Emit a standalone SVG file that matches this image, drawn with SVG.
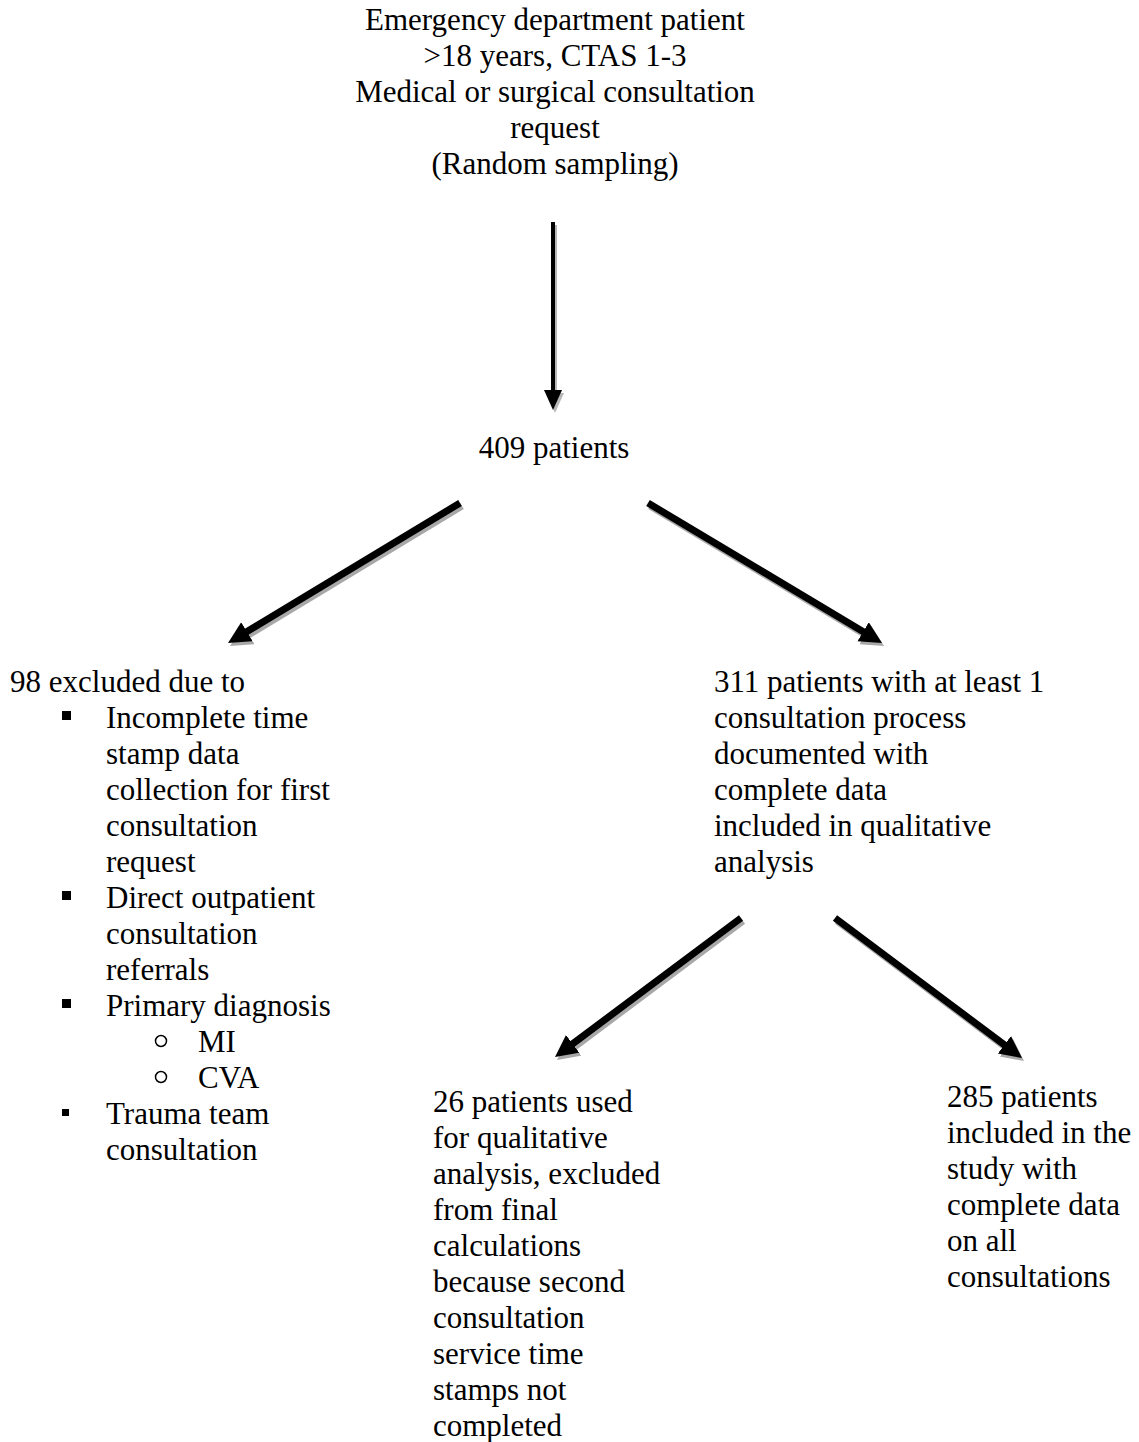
<svg xmlns="http://www.w3.org/2000/svg" width="1139" height="1442" viewBox="0 0 1139 1442">
<style>
  text { font-family: "Liberation Serif", "Times New Roman", serif; font-size: 31px; fill: #000; }
  .c { text-anchor: middle; }
  .thick { stroke: #000; stroke-width: 7; fill: none; }
  .thickS { stroke: #a8a8a8; stroke-width: 7; fill: none; }
  .thin { stroke: #000; stroke-width: 4; fill: none; }
  .thinS { stroke: #b8b8b8; stroke-width: 4; fill: none; }
  .bul { fill: #000; }
  .circ { fill: none; stroke: #000; stroke-width: 1.5; }
</style>
<defs>
  <marker id="ah" markerUnits="userSpaceOnUse" markerWidth="24" markerHeight="24" refX="8" refY="11" orient="auto">
    <path d="M0,0 L22,11 L0,22 z" fill="#000"/>
  </marker>
  <marker id="ahS" markerUnits="userSpaceOnUse" markerWidth="24" markerHeight="24" refX="8" refY="11" orient="auto">
    <path d="M0,0 L22,11 L0,22 z" fill="#a8a8a8"/>
  </marker>
  <marker id="ahT" markerUnits="userSpaceOnUse" markerWidth="22" markerHeight="22" refX="10" refY="9" orient="auto">
    <path d="M0,0 L20,9 L0,18 z" fill="#000"/>
  </marker>
  <marker id="ahTS" markerUnits="userSpaceOnUse" markerWidth="22" markerHeight="22" refX="10" refY="9" orient="auto">
    <path d="M0,0 L20,9 L0,18 z" fill="#b8b8b8"/>
  </marker>
</defs>

<g id="connectors">
  <g id="shadows" transform="translate(2,3)">
    <line class="thinS" x1="553" y1="222" x2="553" y2="400" marker-end="url(#ahTS)"/>
    <line class="thickS" x1="460" y1="503" x2="240" y2="635.8" marker-end="url(#ahS)"/>
    <line class="thickS" x1="648" y1="503" x2="870" y2="635.8" marker-end="url(#ahS)"/>
    <line class="thickS" x1="741" y1="918" x2="566.2" y2="1048.6" marker-end="url(#ahS)"/>
    <line class="thickS" x1="835" y1="918" x2="1010.8" y2="1049.6" marker-end="url(#ahS)"/>
  </g>
  <line class="thin" x1="553" y1="222" x2="553" y2="400" marker-end="url(#ahT)"/>
  <line class="thick" x1="460" y1="503" x2="240" y2="635.8" marker-end="url(#ah)"/>
  <line class="thick" x1="648" y1="503" x2="870" y2="635.8" marker-end="url(#ah)"/>
  <line class="thick" x1="741" y1="918" x2="566.2" y2="1048.6" marker-end="url(#ah)"/>
  <line class="thick" x1="835" y1="918" x2="1010.8" y2="1049.6" marker-end="url(#ah)"/>
</g>

<g id="node-start">
  <text class="c" x="555" y="30">Emergency department patient</text>
  <text class="c" x="555" y="66">&gt;18 years, CTAS 1-3</text>
  <text class="c" x="555" y="102">Medical or surgical consultation</text>
  <text class="c" x="555" y="138">request</text>
  <text class="c" x="555" y="174">(Random sampling)</text>
</g>

<g id="node-409">
  <text class="c" x="554" y="458">409 patients</text>
</g>

<g id="node-excluded">
  <text x="10" y="692">98 excluded due to</text>
  <rect class="bul" x="62" y="711" width="9" height="9"/>
  <text x="106" y="728">Incomplete time</text>
  <text x="106" y="764">stamp data</text>
  <text x="106" y="800">collection for first</text>
  <text x="106" y="836">consultation</text>
  <text x="106" y="872">request</text>
  <rect class="bul" x="62" y="891" width="9" height="9"/>
  <text x="106" y="908">Direct outpatient</text>
  <text x="106" y="944">consultation</text>
  <text x="106" y="980">referrals</text>
  <rect class="bul" x="62" y="999" width="9" height="9"/>
  <text x="106" y="1016">Primary diagnosis</text>
  <circle class="circ" cx="161" cy="1041" r="5.5"/>
  <text x="198" y="1052">MI</text>
  <circle class="circ" cx="161" cy="1077" r="5.5"/>
  <text x="198" y="1088">CVA</text>
  <rect class="bul" x="62" y="1109" width="7" height="7"/>
  <text x="106" y="1124">Trauma team</text>
  <text x="106" y="1160">consultation</text>
</g>

<g id="node-311">
  <text x="714" y="692">311 patients with at least 1</text>
  <text x="714" y="728">consultation process</text>
  <text x="714" y="764">documented with</text>
  <text x="714" y="800">complete data</text>
  <text x="714" y="836">included in qualitative</text>
  <text x="714" y="872">analysis</text>
</g>

<g id="node-26">
  <text x="433" y="1112">26 patients used</text>
  <text x="433" y="1148">for qualitative</text>
  <text x="433" y="1184">analysis, excluded</text>
  <text x="433" y="1220">from final</text>
  <text x="433" y="1256">calculations</text>
  <text x="433" y="1292">because second</text>
  <text x="433" y="1328">consultation</text>
  <text x="433" y="1364">service time</text>
  <text x="433" y="1400">stamps not</text>
  <text x="433" y="1436">completed</text>
</g>

<g id="node-285">
  <text x="947" y="1107">285 patients</text>
  <text x="947" y="1143">included in the</text>
  <text x="947" y="1179">study with</text>
  <text x="947" y="1215">complete data</text>
  <text x="947" y="1251">on all</text>
  <text x="947" y="1287">consultations</text>
</g>
</svg>
